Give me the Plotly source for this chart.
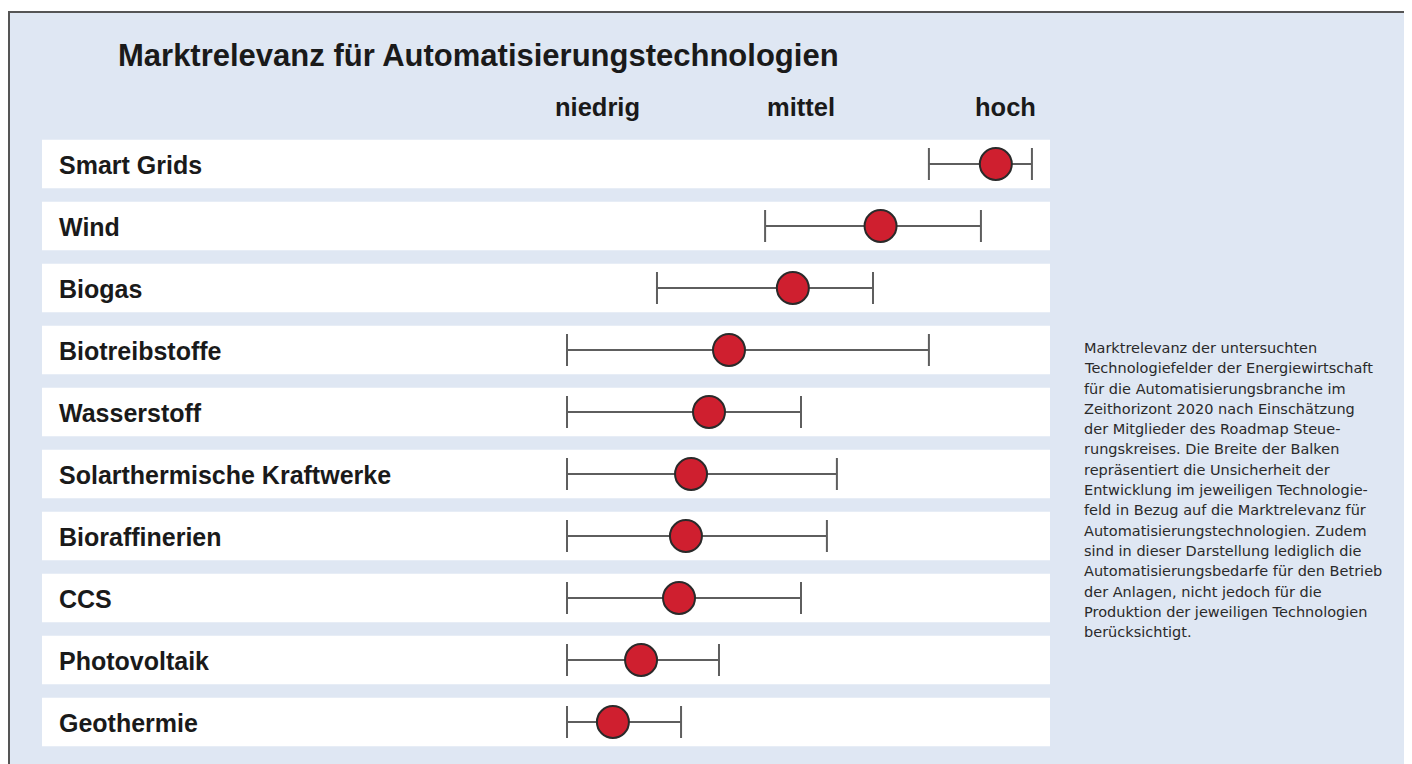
import plotly.graph_objects as go

# ---- data ----
title = "Marktrelevanz für Automatisierungstechnologien"
categories = ["Smart Grids", "Wind", "Biogas", "Biotreibstoffe", "Wasserstoff",
              "Solarthermische Kraftwerke", "Bioraffinerien", "CCS",
              "Photovoltaik", "Geothermie"]
# relevance scale: 1 = niedrig, 2 = mittel, 3 = hoch
relevance = [2.955, 2.39, 1.96, 1.647, 1.549, 1.461, 1.436, 1.402, 1.216, 1.078]
lower     = [2.627, 1.824, 1.294, 0.853, 0.853, 0.853, 0.853, 0.853, 0.853, 0.853]
upper     = [3.132, 2.882, 2.353, 2.627, 2.0, 2.176, 2.127, 2.0, 1.598, 1.412]
scale_vals = [1, 2, 3]
scale_labels = ["niedrig", "mittel", "hoch"]
note_lines = [
    "Marktrelevanz der untersuchten",
    "Technologiefelder der Energiewirtschaft",
    "für die Automatisierungsbranche im",
    "Zeithorizont 2020 nach Einschätzung",
    "der Mitglieder des Roadmap Steue-",
    "rungskreises. Die Breite der Balken",
    "repräsentiert die Unsicherheit der",
    "Entwicklung im jeweiligen Technologie-",
    "feld in Bezug auf die Marktrelevanz für",
    "Automatisierungstechnologien. Zudem",
    "sind in dieser Darstellung lediglich die",
    "Automatisierungsbedarfe für den Betrieb",
    "der Anlagen, nicht jedoch für die",
    "Produktion der jeweiligen Technologien",
    "berücksichtigt.",
]

# page body has an 8px margin; figure fills the rest of the window
OFF = 8
W, H = 1412 - OFF, 764 - OFF
FONT = "Liberation Sans, Arial, Helvetica, sans-serif"
NOTE_FONT = "DejaVu Sans, Verdana, sans-serif"


def px(xp):   # window px -> paper x
    return (xp - OFF) / W


def py(yp):   # window px -> paper y
    return 1 - (yp - OFF) / H


# axis geometry (window px): value 1 at x=597, 204 px per unit; rows at y=164 + 62*i
x1_px, unit_px = 597.0 - OFF, 204.0
y0_px, row_px = 164.0 - OFF, 62.0
x_range = [1 - x1_px / unit_px, 1 + (W - x1_px) / unit_px]
y_range = [(H - y0_px) / row_px, -y0_px / row_px]

idx = list(range(len(categories)))
err_plus = [u - r for u, r in zip(upper, relevance)]
err_minus = [r - l for r, l in zip(relevance, lower)]

fig = go.Figure()
fig.add_trace(go.Scatter(
    x=relevance, y=idx, mode="markers",
    marker=dict(size=32, color="#cf1f2f", line=dict(color="#2a2a2a", width=2)),
    error_x=dict(type="data", symmetric=False, array=err_plus, arrayminus=err_minus,
                 color="#5e5e5e", thickness=2, width=16),
    hoverinfo="skip", showlegend=False,
))

shapes = []
shapes.append(dict(type="rect", xref="paper", yref="paper",
                   x0=px(9), x1=px(1408), y0=-0.05, y1=py(12),
                   fillcolor="#dfe7f3", line=dict(color="#555555", width=2),
                   layer="below"))
for i in idx:
    shapes.append(dict(type="rect", xref="paper", yref="y",
                       x0=px(42), x1=px(1050), y0=i - 0.39, y1=i + 0.39,
                       fillcolor="white", line=dict(width=0), layer="below"))

annotations = []
annotations.append(dict(text=f"<b>{title}</b>", xref="paper", yref="paper",
                        x=px(116), y=py(55), xanchor="left", yanchor="middle",
                        showarrow=False, font=dict(family=FONT, size=31, color="#1a1a1a")))
for v, lab in zip(scale_vals, scale_labels):
    annotations.append(dict(text=f"<b>{lab}</b>", xref="x", yref="paper",
                            x=v, y=py(107), xanchor="center", yanchor="middle",
                            showarrow=False, font=dict(family=FONT, size=25.5, color="#1a1a1a")))
for i, c in zip(idx, categories):
    annotations.append(dict(text=f"<b>{c}</b>", xref="paper", yref="y",
                            x=px(57), y=i + 0.02, xanchor="left", yanchor="middle",
                            showarrow=False, font=dict(family=FONT, size=25, color="#1a1a1a")))
for k, line in enumerate(note_lines):
    annotations.append(dict(text=line, xref="paper", yref="paper",
                            x=px(1082), y=py(348 + 20.3 * k),
                            xanchor="left", yanchor="middle", showarrow=False,
                            font=dict(family=NOTE_FONT, size=14.5, color="#2a2a2a")))

fig.update_layout(
    width=W, height=H, margin=dict(l=0, r=0, t=0, b=0),
    paper_bgcolor="white", plot_bgcolor="rgba(0,0,0,0)",
    xaxis=dict(range=x_range, visible=False, fixedrange=True),
    yaxis=dict(range=y_range, visible=False, fixedrange=True),
    shapes=shapes, annotations=annotations,
)
fig.write_html("out.html")
